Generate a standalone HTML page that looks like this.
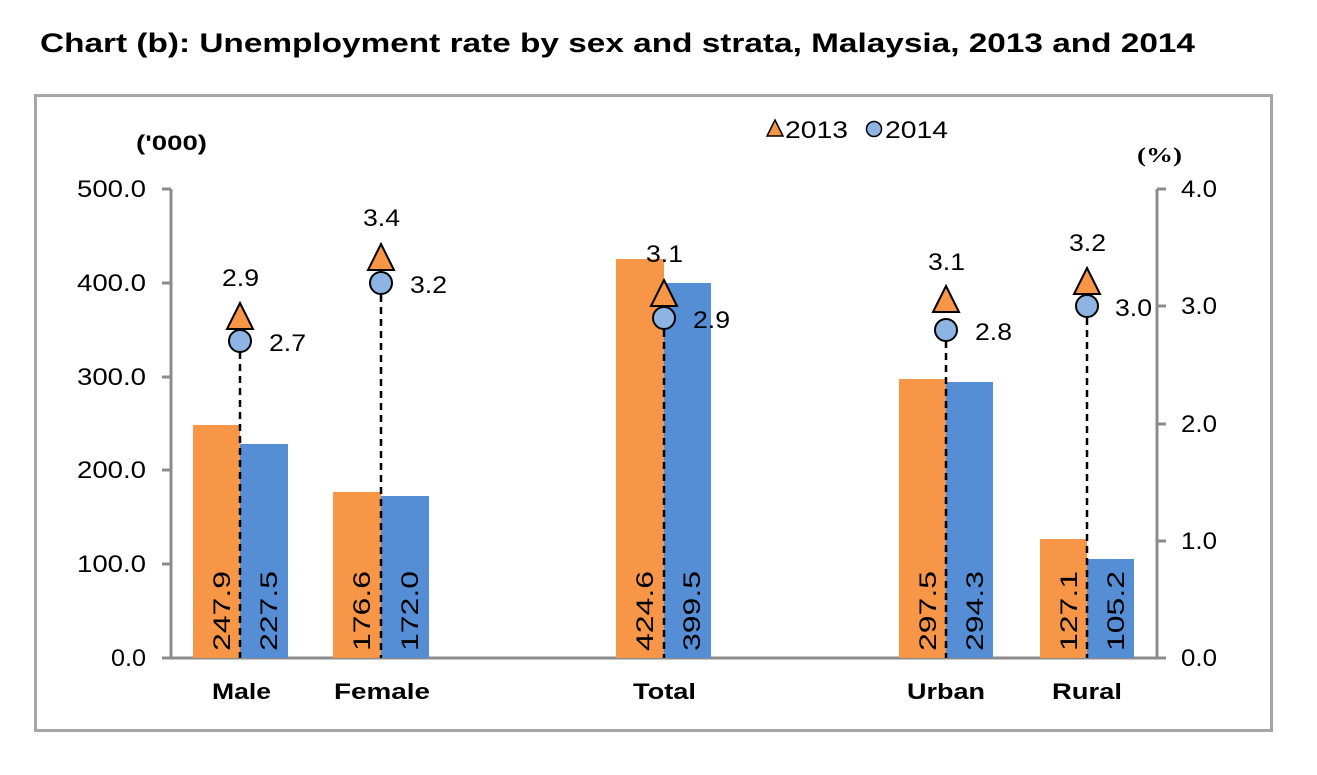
<!DOCTYPE html>
<html><head><meta charset="utf-8"><style>
body{margin:0;background:#fff;}
svg{display:block;font-family:"Liberation Sans",Arial,sans-serif;}
</style></head><body>
<svg width="1317" height="775" viewBox="0 0 1317 775">
<text x="40" y="52" font-size="27" font-weight="bold" textLength="1155" lengthAdjust="spacingAndGlyphs">Chart (b): Unemployment rate by sex and strata, Malaysia, 2013 and 2014</text>
<rect x="35.5" y="95.5" width="1236" height="635" fill="none" stroke="#a6a6a6" stroke-width="3"/>
<text x="136" y="150" font-size="21" font-weight="bold" textLength="71" lengthAdjust="spacingAndGlyphs">('000)</text>
<text x="1137" y="162" font-size="21" font-weight="bold" font-family="Liberation Serif,serif" textLength="45" lengthAdjust="spacingAndGlyphs">(%)</text>
<!-- legend -->
<polygon points="775,120 783,136 767,136" fill="#f79646" stroke="#000" stroke-width="1.5"/>
<text x="785" y="138" font-size="24" textLength="63" lengthAdjust="spacingAndGlyphs">2013</text>
<circle cx="874" cy="129" r="7.5" fill="#8eb4e3" stroke="#000" stroke-width="1.5"/>
<text x="885" y="138" font-size="24" textLength="63" lengthAdjust="spacingAndGlyphs">2014</text>
<!-- axes -->
<g stroke="#8c8c8c" stroke-width="3" fill="none">
<line x1="171" y1="189" x2="171" y2="659"/>
<line x1="1157" y1="189" x2="1157" y2="659"/>
<line x1="171" y1="658" x2="1157" y2="658"/>
<line x1="162" y1="189" x2="171" y2="189"/><line x1="162" y1="283" x2="171" y2="283"/><line x1="162" y1="377" x2="171" y2="377"/><line x1="162" y1="470" x2="171" y2="470"/><line x1="162" y1="564" x2="171" y2="564"/><line x1="162" y1="658" x2="171" y2="658"/>
<line x1="1157" y1="189" x2="1166" y2="189"/><line x1="1157" y1="306" x2="1166" y2="306"/><line x1="1157" y1="424" x2="1166" y2="424"/><line x1="1157" y1="541" x2="1166" y2="541"/><line x1="1157" y1="658" x2="1166" y2="658"/>
</g>
<g font-size="24">
<text x="77" y="197" textLength="69" lengthAdjust="spacingAndGlyphs">500.0</text>
<text x="77" y="291" textLength="69" lengthAdjust="spacingAndGlyphs">400.0</text>
<text x="77" y="385" textLength="69" lengthAdjust="spacingAndGlyphs">300.0</text>
<text x="77" y="478" textLength="69" lengthAdjust="spacingAndGlyphs">200.0</text>
<text x="77" y="572" textLength="69" lengthAdjust="spacingAndGlyphs">100.0</text>
<text x="111" y="666" textLength="35" lengthAdjust="spacingAndGlyphs">0.0</text>
</g>
<g font-size="24">
<text x="1181" y="197" textLength="36" lengthAdjust="spacingAndGlyphs">4.0</text>
<text x="1181" y="314" textLength="36" lengthAdjust="spacingAndGlyphs">3.0</text>
<text x="1181" y="432" textLength="36" lengthAdjust="spacingAndGlyphs">2.0</text>
<text x="1181" y="549" textLength="36" lengthAdjust="spacingAndGlyphs">1.0</text>
<text x="1181" y="666" textLength="36" lengthAdjust="spacingAndGlyphs">0.0</text>
</g>
<!-- bars -->
<g fill="#f79646">
<rect x="193" y="425" width="47" height="233"/>
<rect x="333" y="492" width="48" height="166"/>
<rect x="616" y="259" width="48" height="399"/>
<rect x="899" y="379" width="47" height="279"/>
<rect x="1040" y="539" width="47" height="119"/>
</g>
<g fill="#558ed5">
<rect x="240" y="444" width="48" height="214"/>
<rect x="381" y="496" width="48" height="162"/>
<rect x="664" y="283" width="47" height="375"/>
<rect x="946" y="382" width="47" height="276"/>
<rect x="1087" y="559" width="47" height="99"/>
</g>
<!-- dashed lines -->
<g stroke="#000" stroke-width="2.5" stroke-dasharray="7,5">
<line x1="240" y1="352" x2="240" y2="658"/>
<line x1="381" y1="295" x2="381" y2="658"/>
<line x1="664" y1="330" x2="664" y2="658"/>
<line x1="946" y1="341" x2="946" y2="658"/>
<line x1="1087" y1="318" x2="1087" y2="658"/>
</g>
<!-- bar labels -->
<g font-size="24">
<text transform="translate(230,651) rotate(-90)" textLength="80" lengthAdjust="spacingAndGlyphs">247.9</text>
<text transform="translate(277,651) rotate(-90)" textLength="80" lengthAdjust="spacingAndGlyphs">227.5</text>
<text transform="translate(370,651) rotate(-90)" textLength="80" lengthAdjust="spacingAndGlyphs">176.6</text>
<text transform="translate(418,651) rotate(-90)" textLength="80" lengthAdjust="spacingAndGlyphs">172.0</text>
<text transform="translate(653,651) rotate(-90)" textLength="80" lengthAdjust="spacingAndGlyphs">424.6</text>
<text transform="translate(700,651) rotate(-90)" textLength="80" lengthAdjust="spacingAndGlyphs">399.5</text>
<text transform="translate(936,651) rotate(-90)" textLength="80" lengthAdjust="spacingAndGlyphs">297.5</text>
<text transform="translate(983,651) rotate(-90)" textLength="80" lengthAdjust="spacingAndGlyphs">294.3</text>
<text transform="translate(1077,651) rotate(-90)" textLength="80" lengthAdjust="spacingAndGlyphs">127.1</text>
<text transform="translate(1124,651) rotate(-90)" textLength="80" lengthAdjust="spacingAndGlyphs">105.2</text>
</g>
<!-- markers -->
<g fill="#f79646" stroke="#000" stroke-width="2">
<polygon points="240,303 253,329 227,329"/>
<polygon points="381,244 394,270 368,270"/>
<polygon points="664,280 677,306 651,306"/>
<polygon points="946,286 959,312 933,312"/>
<polygon points="1087,268 1100,294 1074,294"/>
</g>
<g fill="#8eb4e3" stroke="#000" stroke-width="2">
<circle cx="240" cy="341" r="11"/>
<circle cx="381" cy="283" r="11"/>
<circle cx="664" cy="318" r="11"/>
<circle cx="946" cy="330" r="11"/>
<circle cx="1087" cy="306" r="11"/>
</g>
<g font-size="24">
<text x="222" y="286" textLength="37" lengthAdjust="spacingAndGlyphs">2.9</text>
<text x="363" y="226" textLength="37" lengthAdjust="spacingAndGlyphs">3.4</text>
<text x="646" y="262" textLength="37" lengthAdjust="spacingAndGlyphs">3.1</text>
<text x="928" y="270" textLength="37" lengthAdjust="spacingAndGlyphs">3.1</text>
<text x="1069" y="251" textLength="37" lengthAdjust="spacingAndGlyphs">3.2</text>
</g>
<g font-size="24">
<text x="269" y="351" textLength="37" lengthAdjust="spacingAndGlyphs">2.7</text>
<text x="410" y="293" textLength="37" lengthAdjust="spacingAndGlyphs">3.2</text>
<text x="693" y="328" textLength="37" lengthAdjust="spacingAndGlyphs">2.9</text>
<text x="975" y="340" textLength="37" lengthAdjust="spacingAndGlyphs">2.8</text>
<text x="1115" y="316" textLength="37" lengthAdjust="spacingAndGlyphs">3.0</text>
</g>
<g font-size="22" font-weight="bold">
<text x="212" y="699" textLength="59" lengthAdjust="spacingAndGlyphs">Male</text>
<text x="334" y="699" textLength="96" lengthAdjust="spacingAndGlyphs">Female</text>
<text x="633" y="699" textLength="63" lengthAdjust="spacingAndGlyphs">Total</text>
<text x="907" y="699" textLength="78" lengthAdjust="spacingAndGlyphs">Urban</text>
<text x="1052" y="699" textLength="70" lengthAdjust="spacingAndGlyphs">Rural</text>
</g>
</svg>
</body></html>
